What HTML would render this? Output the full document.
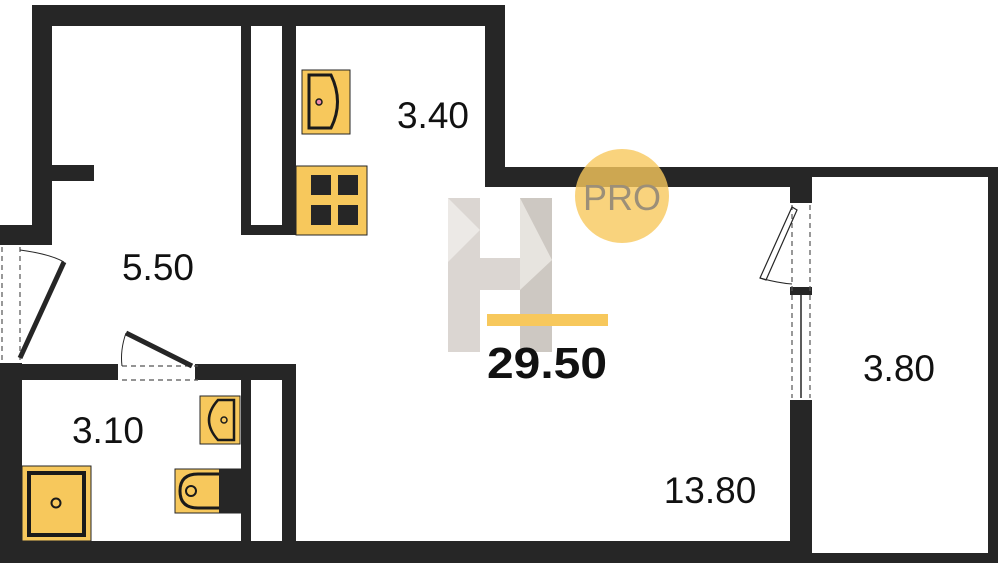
<!DOCTYPE html>
<html><head><style>html,body{margin:0;padding:0;background:#fff}svg{display:block}</style></head>
<body>
<svg width="1000" height="568" viewBox="0 0 1000 568" xmlns="http://www.w3.org/2000/svg">
<g fill="#262626">
<rect x="32" y="5" width="473" height="21"/>
<rect x="32" y="5" width="20" height="237"/>
<rect x="52" y="165" width="42" height="16"/>
<rect x="0" y="225" width="52" height="20"/>
<rect x="485" y="5" width="20" height="182"/>
<rect x="485" y="167" width="327" height="20"/>
<rect x="810" y="167" width="188" height="10"/>
<rect x="988" y="167" width="10" height="396"/>
<rect x="810" y="553" width="188" height="10"/>
<rect x="790" y="167" width="22" height="36"/>
<rect x="790" y="400" width="22" height="163"/>
<rect x="790" y="287" width="22" height="8"/>
<rect x="0" y="541" width="812" height="22"/>
<rect x="0" y="363" width="22" height="200"/>
<rect x="241" y="26" width="10" height="209"/>
<rect x="282" y="26" width="14" height="209"/>
<rect x="241" y="225" width="55" height="10"/>
<rect x="0" y="364" width="118" height="16"/>
<rect x="195" y="364" width="101" height="16"/>
<rect x="241" y="380" width="10" height="162"/>
<rect x="282" y="380" width="14" height="162"/>
</g>
<g stroke="#555" stroke-width="1.2" stroke-dasharray="5,4" fill="none">
<line x1="2" y1="247" x2="2" y2="362"/><line x1="20" y1="247" x2="20" y2="362"/>
<line x1="122" y1="366" x2="198" y2="366"/><line x1="122" y1="380" x2="198" y2="380"/>
<line x1="792" y1="205" x2="792" y2="398"/><line x1="810" y1="205" x2="810" y2="398"/>
</g>
<line x1="20" y1="358" x2="64" y2="262" stroke="#262626" stroke-width="5"/>
<path d="M20 250 Q50 254 64 262" stroke="#262626" stroke-width="1" fill="none"/>
<line x1="126" y1="333" x2="192" y2="366" stroke="#262626" stroke-width="5"/>
<path d="M126 333 Q120 350 122 366" stroke="#262626" stroke-width="1" fill="none"/>
<path d="M792 207 L760 278 L766 280 L797 210 Z" fill="none" stroke="#262626" stroke-width="1.2"/>
<path d="M760 278 Q778 283 792 284" stroke="#262626" stroke-width="1" fill="none"/>
<line x1="801" y1="295" x2="801" y2="398" stroke="#262626" stroke-width="1.5"/>
<g stroke="#262626" stroke-width="1">
<rect x="302" y="70" width="48" height="64" fill="#f7c85c"/>
<rect x="296" y="166" width="71" height="69" fill="#f7c85c"/>
<rect x="200" y="396" width="40" height="48" fill="#f7c85c"/>
<rect x="175" y="469" width="66" height="44" fill="#f7c85c"/>
<rect x="22" y="466" width="69" height="75" fill="#f7c85c"/>
</g>
<path d="M309 75 H331 Q344 102 331 128 H309 Z" fill="none" stroke="#1a1a1a" stroke-width="3"/>
<circle cx="319" cy="102" r="3" fill="#e8a" stroke="#1a1a1a" stroke-width="1.5"/>
<g fill="#262626">
<rect x="311" y="175" width="20" height="20"/><rect x="338" y="175" width="20" height="20"/>
<rect x="311" y="205" width="20" height="20"/><rect x="338" y="205" width="20" height="20"/>
<rect x="219" y="469" width="22" height="44"/>
</g>
<path d="M234 400 H218 Q200 420 218 440 H234 Z" fill="none" stroke="#1a1a1a" stroke-width="2.5"/>
<circle cx="224" cy="420" r="3" fill="none" stroke="#1a1a1a" stroke-width="1.5"/>
<path d="M219 474 H198 Q180 474 180 491 Q180 508 198 508 H219" fill="none" stroke="#1a1a1a" stroke-width="3"/>
<circle cx="191" cy="491" r="5" fill="none" stroke="#1a1a1a" stroke-width="2"/>
<rect x="29" y="473" width="55" height="62" fill="none" stroke="#1a1a1a" stroke-width="4"/>
<circle cx="56" cy="503" r="4.5" fill="none" stroke="#1a1a1a" stroke-width="2"/>
<g opacity="0.75">
<rect x="448" y="198" width="32" height="154" fill="#cfc9c3"/>
<rect x="520" y="198" width="32" height="154" fill="#bdb6ae"/>
<rect x="480" y="258" width="40" height="32" fill="#cfc9c3"/>
<polygon points="448,198 480,230 448,262" fill="#e6e2de"/>
<polygon points="520,198 552,260 520,290" fill="#e0dbd5"/>
</g>
<rect x="487" y="314" width="121" height="12" fill="#f7c85c"/>
<circle cx="622" cy="196" r="47" fill="#f7c85c" opacity="0.8"/>
<text x="622" y="210" font-family="Liberation Sans, sans-serif" font-size="36" fill="#9c8f78" text-anchor="middle">PRO</text>
<g font-family="Liberation Sans, sans-serif" fill="#111">
<text x="487" y="378" font-size="44" font-weight="bold" textLength="120" lengthAdjust="spacingAndGlyphs">29.50</text>
<text x="433" y="128" font-size="37" text-anchor="middle">3.40</text>
<text x="158" y="280" font-size="37" text-anchor="middle">5.50</text>
<text x="108" y="443" font-size="37" text-anchor="middle">3.10</text>
<text x="710" y="503" font-size="37" text-anchor="middle">13.80</text>
<text x="899" y="381" font-size="37" text-anchor="middle">3.80</text>
</g>
</svg>
</body></html>
